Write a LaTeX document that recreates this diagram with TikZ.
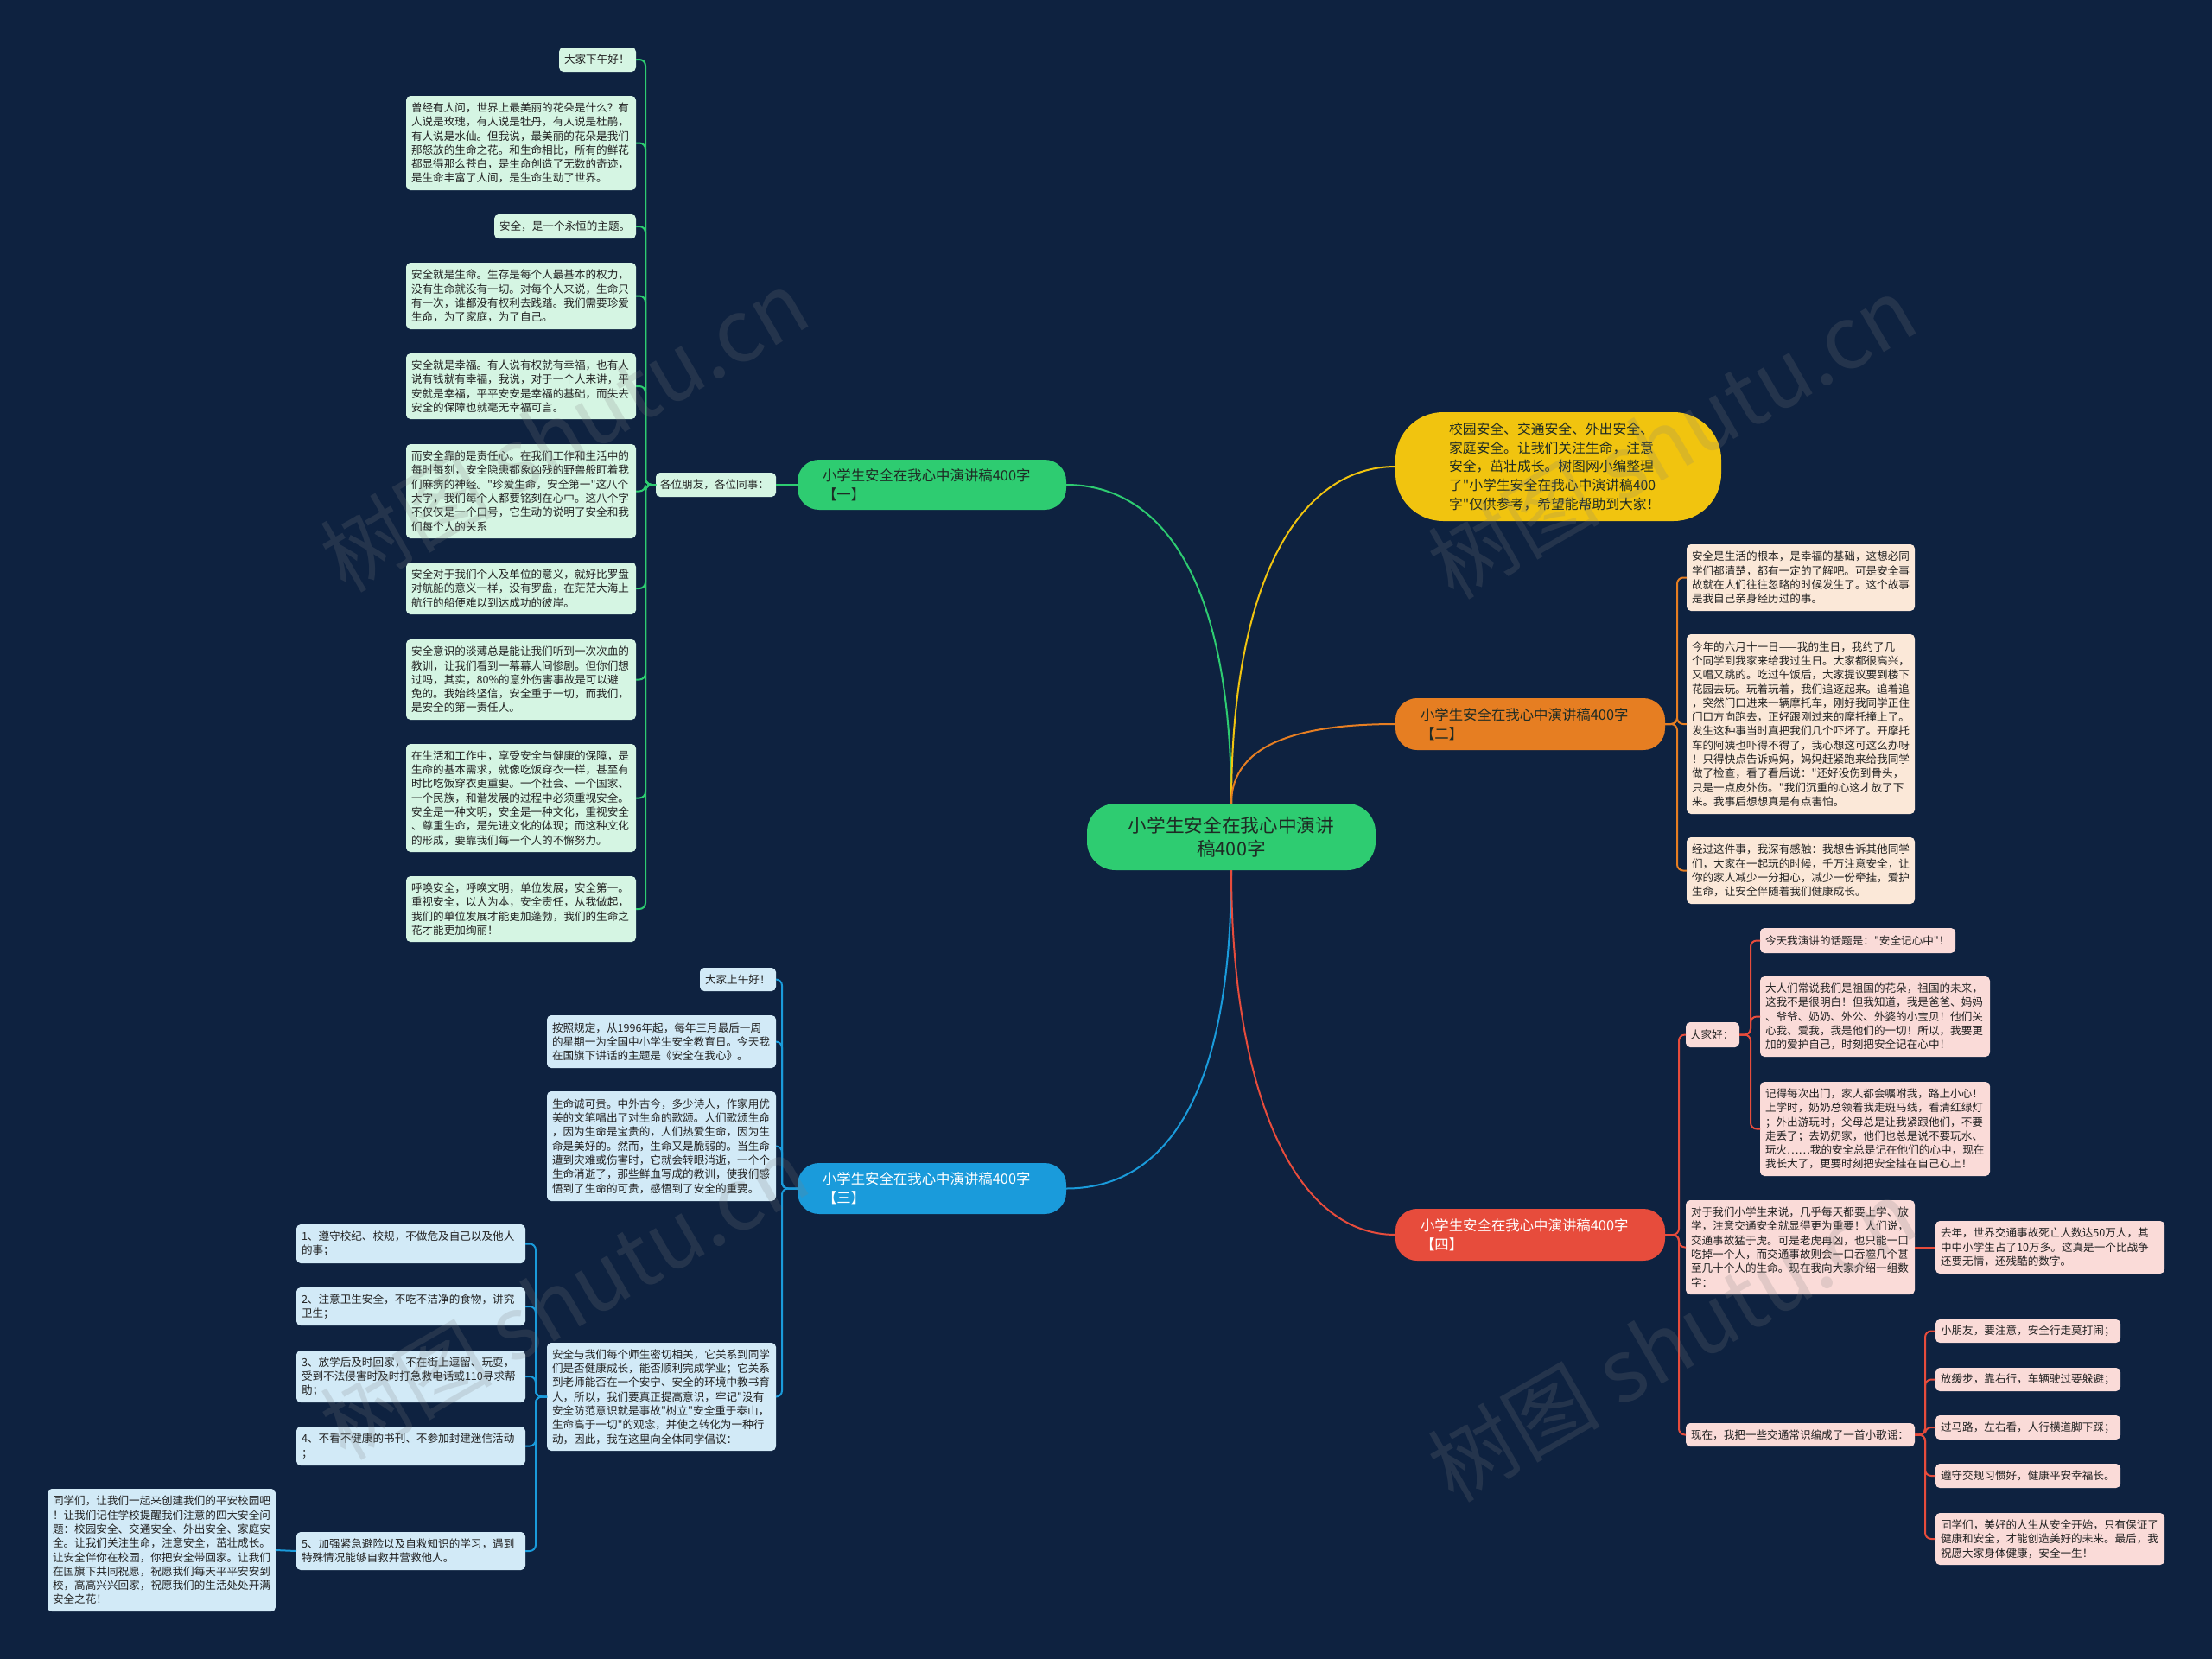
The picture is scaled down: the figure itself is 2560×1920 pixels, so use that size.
\documentclass[tikz,border=0pt]{standalone}
\usepackage{fontspec}
\setmainfont{Noto Sans CJK SC}[Ligatures=TeXOff]
\definecolor{bgc}{HTML}{0E2240}
\definecolor{gmain}{HTML}{2ECC71}
\definecolor{gfill}{HTML}{D5F5E3}
\definecolor{ymain}{HTML}{F1C40F}
\definecolor{omain}{HTML}{E67E22}
\definecolor{ofill}{HTML}{FBE8D8}
\definecolor{bmain}{HTML}{1A9BDB}
\definecolor{bfill}{HTML}{D2EAF7}
\definecolor{rmain}{HTML}{E74C3C}
\definecolor{rfill}{HTML}{FADBD8}
\definecolor{darktxt}{HTML}{1E2B24}
\definecolor{leaftxt}{HTML}{222222}
\newcommand\lffont{\fontsize{12.6pt}{16.3pt}\selectfont}
\newcommand\brfont{\fontsize{16.4pt}{22pt}\selectfont}
\newcommand\ctfont{\fontsize{21.7pt}{27.5pt}\selectfont}
\newcommand\ylfont{\fontsize{15.8pt}{21.7pt}\selectfont}
\newcommand\wmfont{\fontsize{100pt}{100pt}\selectfont}
\newcommand\mkbox[8]{%
  \pgfmathsetmacro\mkcx{(#3+#5)/2}%
  \pgfmathsetmacro\mkcy{(#4+#6)/2}%
  \pgfmathsetmacro\mkw{#5-#3}%
  \pgfmathsetmacro\mkh{#6-#4}%
  \pgfmathsetmacro\mktw{#5-#3-2*#7}%
  \node[#1, inner xsep=#7pt, minimum width=\mkw pt, minimum height=\mkh pt, text width=\mktw pt] (#2) at (\mkcx,\mkcy) {#8};}
\tikzset{
  leafbase/.style={rounded corners=5pt, inner ysep=0pt, outer sep=0pt, align=left, text=leaftxt, font=\lffont},
  gleaf/.style={leafbase, fill=gfill},
  oleaf/.style={leafbase, fill=ofill},
  bleaf/.style={leafbase, fill=bfill},
  rleaf/.style={leafbase, fill=rfill},
  brbase/.style={rounded corners=25pt, inner ysep=0pt, outer sep=0pt, align=left, font=\brfont},
  gbranch/.style={brbase, fill=gmain, text=darktxt},
  obranch/.style={brbase, fill=omain, text=darktxt},
  bbranch/.style={brbase, fill=bmain, text=white},
  rbranch/.style={brbase, fill=rmain, text=white},
  ynode/.style={rounded corners=55pt, inner ysep=0pt, outer sep=0pt, align=left, font=\ylfont, fill=ymain, text=darktxt},
  cnode/.style={rounded corners=33pt, inner ysep=0pt, outer sep=0pt, align=center, font=\ctfont, fill=gmain, text=darktxt},
  conn/.style={line width=2pt, rounded corners=7pt},
  gline/.style={conn, draw=gmain},
  yline/.style={conn, draw=ymain},
  oline/.style={conn, draw=omain},
  bline/.style={conn, draw=bmain},
  rline/.style={conn, draw=rmain},
  wmark/.style={text=gray, opacity=0.2, font=\wmfont, rotate=30, inner sep=0pt},
}
\begin{document}
\begin{tikzpicture}[x=1pt,y=-1pt]
\fill[bgc] (0,0) rectangle (2560,1920);
\useasboundingbox (0,0) rectangle (2560,1920);

% centre and branches
\mkbox{cnode}{ctr}{1258}{930}{1592}{1007}{20}{小学生安全在我心中演讲\\稿400字}
\mkbox{gbranch}{br1}{923}{532}{1234}{590}{29}{小学生安全在我心中演讲稿400字\\【一】}
\mkbox{ynode}{ylw}{1615}{477}{1992}{603}{62}{校园安全、交通安全、外出安全、\\家庭安全。让我们关注生命，注意\\安全，茁壮成长。树图网小编整理\\了"小学生安全在我心中演讲稿400\\字"仅供参考，希望能帮助到大家！}
\mkbox{obranch}{br2}{1615}{808}{1927}{868}{29}{小学生安全在我心中演讲稿400字\\【二】}
\mkbox{bbranch}{br3}{923}{1346}{1234}{1405}{29}{小学生安全在我心中演讲稿400字\\【三】}
\mkbox{rbranch}{br4}{1615}{1399}{1927}{1459}{29}{小学生安全在我心中演讲稿400字\\【四】}

% branch one (green)
\mkbox{gleaf}{gp}{759}{547}{898}{575}{5}{各位朋友，各位同事：}
\mkbox{gleaf}{g1}{647}{55}{736}{83}{6}{大家下午好！}
\mkbox{gleaf}{g2}{470}{111}{736}{220}{6}{曾经有人问，世界上最美丽的花朵是什么？有\\人说是玫瑰，有人说是牡丹，有人说是杜鹃，\\有人说是水仙。但我说，最美丽的花朵是我们\\那怒放的生命之花。和生命相比，所有的鲜花\\都显得那么苍白，是生命创造了无数的奇迹，\\是生命丰富了人间，是生命生动了世界。}
\mkbox{gleaf}{g3}{572}{248}{736}{276}{6}{安全，是一个永恒的主题。}
\mkbox{gleaf}{g4}{470}{304}{736}{381}{6}{安全就是生命。生存是每个人最基本的权力，\\没有生命就没有一切。对每个人来说，生命只\\有一次，谁都没有权利去践踏。我们需要珍爱\\生命，为了家庭，为了自己。}
\mkbox{gleaf}{g5}{470}{409}{736}{485}{6}{安全就是幸福。有人说有权就有幸福，也有人\\说有钱就有幸福，我说，对于一个人来讲，平\\安就是幸福，平平安安是幸福的基础，而失去\\安全的保障也就毫无幸福可言。}
\mkbox{gleaf}{g6}{470}{514}{736}{623}{6}{而安全靠的是责任心。在我们工作和生活中的\\每时每刻，安全隐患都象凶残的野兽般盯着我\\们麻痹的神经。"珍爱生命，安全第一"这八个\\大字，我们每个人都要铭刻在心中。这八个字\\不仅仅是一个口号，它生动的说明了安全和我\\们每个人的关系}
\mkbox{gleaf}{g7}{470}{651}{736}{711}{6}{安全对于我们个人及单位的意义，就好比罗盘\\对航船的意义一样，没有罗盘，在茫茫大海上\\航行的船便难以到达成功的彼岸。}
\mkbox{gleaf}{g8}{470}{740}{736}{833}{6}{安全意识的淡薄总是能让我们听到一次次血的\\教训，让我们看到一幕幕人间惨剧。但你们想\\过吗，其实，80\%的意外伤害事故是可以避\\免的。我始终坚信，安全重于一切，而我们，\\是安全的第一责任人。}
\mkbox{gleaf}{g9}{470}{861}{736}{986}{6}{在生活和工作中，享受安全与健康的保障，是\\生命的基本需求，就像吃饭穿衣一样，甚至有\\时比吃饭穿衣更重要。一个社会、一个国家、\\一个民族，和谐发展的过程中必须重视安全。\\安全是一种文明，安全是一种文化，重视安全\\、尊重生命，是先进文化的体现；而这种文化\\的形成，要靠我们每一个人的不懈努力。}
\mkbox{gleaf}{g10}{470}{1014}{736}{1090}{6}{呼唤安全，呼唤文明，单位发展，安全第一。\\重视安全，以人为本，安全责任，从我做起，\\我们的单位发展才能更加蓬勃，我们的生命之\\花才能更加绚丽！}

% branch two (orange)
\mkbox{oleaf}{o1}{1952}{630}{2216}{707}{6}{安全是生活的根本，是幸福的基础，这想必同\\学们都清楚，都有一定的了解吧。可是安全事\\故就在人们往往忽略的时候发生了。这个故事\\是我自己亲身经历过的事。}
\mkbox{oleaf}{o2}{1952}{734}{2216}{942}{6}{今年的六月十一日——我的生日，我约了几\\个同学到我家来给我过生日。大家都很高兴，\\又唱又跳的。吃过午饭后，大家提议要到楼下\\花园去玩。玩着玩着，我们追逐起来。追着追\\，突然门口进来一辆摩托车，刚好我同学正住\\门口方向跑去，正好跟刚过来的摩托撞上了。\\发生这种事当时真把我们几个吓坏了。开摩托\\车的阿姨也吓得不得了，我心想这可这么办呀\\！只得快点告诉妈妈，妈妈赶紧跑来给我同学\\做了检查，看了看后说："还好没伤到骨头，\\只是一点皮外伤。"我们沉重的心这才放了下\\来。我事后想想真是有点害怕。}
\mkbox{oleaf}{o3}{1952}{969}{2216}{1046}{6}{经过这件事，我深有感触：我想告诉其他同学\\们，大家在一起玩的时候，千万注意安全，让\\你的家人减少一分担心，减少一份牵挂，爱护\\生命，让安全伴随着我们健康成长。}

% branch four (red)
\mkbox{rleaf}{r1}{1951}{1183}{2013}{1212}{5}{大家好：}
\mkbox{rleaf}{r1a}{2037}{1074}{2263}{1103}{6}{今天我演讲的话题是："安全记心中"！}
\mkbox{rleaf}{r1b}{2037}{1130}{2303}{1223}{6}{大人们常说我们是祖国的花朵，祖国的未来，\\这我不是很明白！但我知道，我是爸爸、妈妈\\、爷爷、奶奶、外公、外婆的小宝贝！他们关\\心我、爱我，我是他们的一切！所以，我要更\\加的爱护自己，时刻把安全记在心中！}
\mkbox{rleaf}{r1c}{2037}{1252}{2303}{1361}{6}{记得每次出门，家人都会嘱咐我，路上小心！\\上学时，奶奶总领着我走斑马线，看清红绿灯\\；外出游玩时，父母总是让我紧跟他们，不要\\走丢了；去奶奶家，他们也总是说不要玩水、\\玩火……我的安全总是记在他们的心中，现在\\我长大了，更要时刻把安全挂在自己心上！}
\mkbox{rleaf}{r2}{1951}{1389}{2216}{1498}{6}{对于我们小学生来说，几乎每天都要上学、放\\学，注意交通安全就显得更为重要！人们说，\\交通事故猛于虎。可是老虎再凶，也只能一口\\吃掉一个人，而交通事故则会一口吞噬几个甚\\至几十个人的生命。现在我向大家介绍一组数\\字：}
\mkbox{rleaf}{r2a}{2240}{1413}{2505}{1474}{6}{去年，世界交通事故死亡人数达50万人，其\\中中小学生占了10万多。这真是一个比战争\\还要无情，还残酷的数字。}
\mkbox{rleaf}{r3}{1951}{1647}{2216}{1674}{6}{现在，我把一些交通常识编成了一首小歌谣：}
\mkbox{rleaf}{s1}{2240}{1527}{2454}{1554}{6}{小朋友，要注意，安全行走莫打闹；}
\mkbox{rleaf}{s2}{2240}{1583}{2454}{1610}{6}{放缓步，靠右行，车辆驶过要躲避；}
\mkbox{rleaf}{s3}{2240}{1638}{2454}{1666}{6}{过马路，左右看，人行横道脚下踩；}
\mkbox{rleaf}{s4}{2240}{1694}{2454}{1722}{6}{遵守交规习惯好，健康平安幸福长。}
\mkbox{rleaf}{s5}{2240}{1751}{2505}{1811}{6}{同学们，美好的人生从安全开始，只有保证了\\健康和安全，才能创造美好的未来。最后，我\\祝愿大家身体健康，安全一生！}

% branch three (blue)
\mkbox{bleaf}{b1}{810}{1120}{898}{1147}{6}{大家上午好！}
\mkbox{bleaf}{b2}{633}{1175}{898}{1236}{6}{按照规定，从1996年起，每年三月最后一周\\的星期一为全国中小学生安全教育日。今天我\\在国旗下讲话的主题是《安全在我心》。}
\mkbox{bleaf}{b3}{633}{1263}{898}{1390}{6}{生命诚可贵。中外古今，多少诗人，作家用优\\美的文笔唱出了对生命的歌颂。人们歌颂生命\\，因为生命是宝贵的，人们热爱生命，因为生\\命是美好的。然而，生命又是脆弱的。当生命\\遭到灾难或伤害时，它就会转眼消逝，一个个\\生命消逝了，那些鲜血写成的教训，使我们感\\悟到了生命的可贵，感悟到了安全的重要。}
\mkbox{bleaf}{b4}{633}{1554}{898}{1679}{6}{安全与我们每个师生密切相关，它关系到同学\\们是否健康成长，能否顺利完成学业；它关系\\到老师能否在一个安宁、安全的环境中教书育\\人，所以，我们要真正提高意识，牢记"没有\\安全防范意识就是事故"树立"安全重于泰山，\\生命高于一切"的观念，并使之转化为一种行\\动，因此，我在这里向全体同学倡议：}
\mkbox{bleaf}{c1}{343}{1417}{608}{1462}{6}{1、遵守校纪、校规，不做危及自己以及他人\\的事；}
\mkbox{bleaf}{c2}{343}{1490}{608}{1534}{6}{2、注意卫生安全，不吃不洁净的食物，讲究\\卫生；}
\mkbox{bleaf}{c3}{343}{1563}{608}{1623}{6}{3、放学后及时回家，不在街上逗留、玩耍，\\受到不法侵害时及时打急救电话或110寻求帮\\助；}
\mkbox{bleaf}{c4}{343}{1651}{608}{1696}{6}{4、不看不健康的书刊、不参加封建迷信活动\\；}
\mkbox{bleaf}{c5}{343}{1773}{608}{1817}{6}{5、加强紧急避险以及自救知识的学习，遇到\\特殊情况能够自救并营救他人。}
\mkbox{bleaf}{cc}{55}{1723}{319}{1865}{6}{同学们，让我们一起来创建我们的平安校园吧\\！让我们记住学校提醒我们注意的四大安全问\\题：校园安全、交通安全、外出安全、家庭安\\全。让我们关注生命，注意安全，茁壮成长。\\让安全伴你在校园，你把安全带回家。让我们\\在国旗下共同祝愿，祝愿我们每天平平安安到\\校，高高兴兴回家，祝愿我们的生活处处开满\\安全之花！}

% spine coordinates
\coordinate (gs) at (747,561);
\coordinate (os) at (1941,838);
\coordinate (rs) at (1943,1429);
\coordinate (r1s) at (2026,1197.5);
\coordinate (r3s) at (2228,1660.5);
\coordinate (bs) at (905,1375.5);
\coordinate (b4s) at (620,1616.5);

% centre to branches
\draw[gline] (ctr.north) .. controls +(0,-260) and +(110,0) .. (br1.east);
\draw[yline] (ctr.north) .. controls +(0,-260) and +(-110,0) .. (ylw.west);
\draw[oline] (ctr.north) .. controls +(0,-70) and +(-110,0) .. (br2.west);
\draw[bline] (ctr.south) .. controls +(0,270) and +(110,0) .. (br3.east);
\draw[rline] (ctr.south) .. controls +(0,250) and +(-120,0) .. (br4.west);

% green connectors
\draw[gline] (br1.west) -- (gp.east);
\foreach \n in {g1,g2,g3,g4,g5,g6,g7,g8,g9,g10}
  \draw[gline] (gp.west) -- (gs) |- (\n.east);

% orange connectors
\foreach \n in {o1,o2,o3}
  \draw[oline] (br2.east) -- (os) |- (\n.west);

% red connectors
\foreach \n in {r1,r2,r3}
  \draw[rline] (br4.east) -- (rs) |- (\n.west);
\foreach \n in {r1a,r1b,r1c}
  \draw[rline] (r1.east) -- (r1s) |- (\n.west);
\draw[rline] (r2.east) -- (r2a.west);
\foreach \n in {s1,s2,s3,s4,s5}
  \draw[rline] (r3.east) -- (r3s) |- (\n.west);

% blue connectors
\foreach \n in {b1,b2,b3,b4}
  \draw[bline] (br3.west) -- (bs) |- (\n.east);
\foreach \n in {c1,c2,c3,c4,c5}
  \draw[bline] (b4.west) -- (b4s) |- (\n.east);
\draw[bline] (c5.west) -- (cc.east);

% watermarks
\node[wmark] (wm1) at (653,498) {树图 shutu.cn};
\node[wmark] (wm2) at (1935,506) {树图 shutu.cn};
\node[wmark] (wm3) at (653,1502) {树图 shutu.cn};
\node[wmark] (wm4) at (1935,1551) {树图 shutu.cn};
\end{tikzpicture}
\end{document}
